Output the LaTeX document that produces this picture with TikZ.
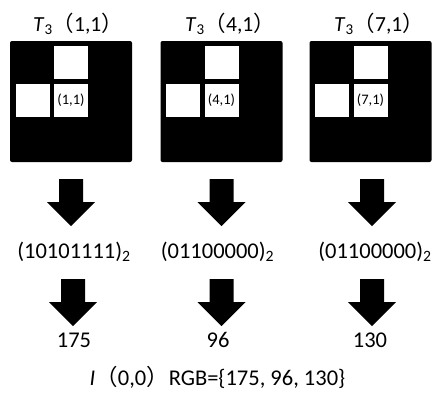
\documentclass[tikz,border=0pt]{standalone}
\usepackage{fontspec}
\setmainfont{Carlito}
\newfontfamily\cjk{Noto Sans CJK SC}
\tikzset{
  blacksq/.style={fill=black, rounded corners=2pt, minimum width=122pt, minimum height=121pt, inner sep=0pt},
  cell/.style={fill=white, minimum width=34pt, minimum height=33pt, inner sep=0pt, font=\fontsize{14.5}{16}\selectfont},
  ttl/.style={anchor=base west, inner sep=0pt, font=\fontsize{21.5}{25}\selectfont},
  txt/.style={anchor=base, inner sep=0pt, font=\fontsize{22.5}{26}\selectfont},
  blockarrow/.pic={\fill[black] (-12,0) -- (12,0) -- (12,23) -- (24,23) -- (0,47) -- (-24,23) -- (-12,23) -- cycle;}
}
\begin{document}
\begin{tikzpicture}[x=1pt,y=-1pt]
\useasboundingbox (0,0) rectangle (432,394);
% titles
\node[ttl] (t1) at (33,31) {\textit{T}\textsubscript{3}{\cjk（}1,1{\cjk）}};
\node[ttl] (t2) at (185,31) {\textit{T}\textsubscript{3}{\cjk（}4,1{\cjk）}};
\node[ttl] (t3) at (334,31) {\textit{T}\textsubscript{3}{\cjk（}7,1{\cjk）}};
% squares
\node[blacksq] (s1) at (71,101.5) {};
\node[blacksq] (s2) at (221.5,101.5) {};
\node[blacksq] (s3) at (370.5,101.5) {};
\node[cell] (s1a) at (71,62.5) {};
\node[cell] (s1b) at (32.5,100.5) {};
\node[cell] (s1c) at (71,100.5) {(1,1)};
\node[cell] (s2a) at (221.5,62.5) {};
\node[cell] (s2b) at (183,100.5) {};
\node[cell] (s2c) at (221.5,100.5) {(4,1)};
\node[cell] (s3a) at (370.5,62.5) {};
\node[cell] (s3b) at (332,100.5) {};
\node[cell] (s3c) at (370.5,100.5) {(7,1)};
% first arrows
\pic (a1) at (71,179) {blockarrow};
\pic (a2) at (221.5,179) {blockarrow};
\pic (a3) at (372,179) {blockarrow};
% binary
\node[txt] (b1) at (74,258) {(10101111)\textsubscript{2}};
\node[txt] (b2) at (217.5,258) {(01100000)\textsubscript{2}};
\node[txt] (b3) at (375,258) {(01100000)\textsubscript{2}};
% second arrows
\pic (c1) at (73,279) {blockarrow};
\pic (c2) at (221.5,279) {blockarrow};
\pic (c3) at (372,279) {blockarrow};
% numbers
\node[txt] (n1) at (74,347) {175};
\node[txt] (n2) at (218,347) {96};
\node[txt] (n3) at (370,347) {130};
% result
\node[txt] (r) at (217.5,385) {\textit{I}{\cjk（}0,0{\cjk）}RGB=\{175, 96, 130\}};
\end{tikzpicture}
\end{document}
